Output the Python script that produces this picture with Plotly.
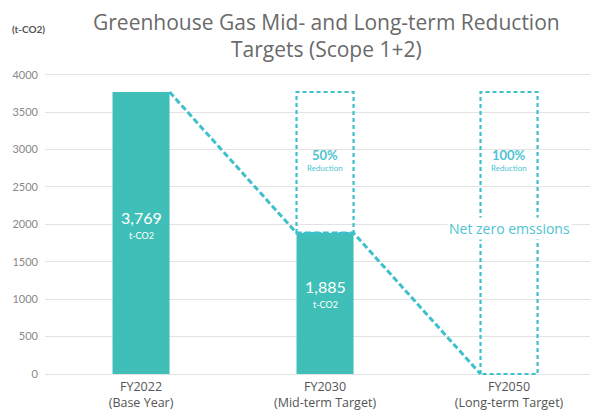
import plotly.graph_objects as go

title_text = "Greenhouse Gas Mid- and Long-term Reduction<br>Targets (Scope 1+2)"
categories = ["FY2022<br>(Base Year)", "FY2030<br>(Mid-term Target)", "FY2050<br>(Long-term Target)"]
emissions = [3769, 1885, 0]
reduction_labels = ["", "50%", "100%"]
value_labels = ["3,769", "1,885", ""]
unit = "t-CO2"
y_ticks = [0, 500, 1000, 1500, 2000, 2500, 3000, 3500, 4000]

BAR = "#3fbfb8"
DASH = "#3dbfcc"
TXT = "#4fc3d3"
half = 0.155
base = emissions[0]

fig = go.Figure()
fig.add_trace(go.Bar(x=[0, 1], y=emissions[:2], width=2 * half, marker=dict(color=BAR, line=dict(width=0)),
                     hoverinfo="skip"))

# dashed target boxes
for i in (1, 2):
    xs = [i - half, i - half, i + half, i + half, i - half]
    ys = [emissions[i], base, base, emissions[i], emissions[i]]
    fig.add_trace(go.Scatter(x=xs, y=ys, mode="lines", line=dict(color=DASH, width=2.2, dash="4px,3px"),
                             hoverinfo="skip"))

# dashed trajectory: right edge of each column to left edge of the next
traj_x = [0 + half, 1 - half, 1 + half, 2 - half]
traj_y = [emissions[0], emissions[1], emissions[1], emissions[2]]
fig.add_trace(go.Scatter(x=traj_x, y=traj_y, mode="lines",
                         line=dict(color=DASH, width=3, dash="6px,3px"), hoverinfo="skip"))

ann = []
for i in (0, 1):
    yy = emissions[i] * 0.52 if i == 0 else emissions[i] * 0.55
    ann.append(dict(x=i, y=yy, text=value_labels[i],
                    showarrow=False, font=dict(size=16, color="white"), yanchor="bottom", yshift=-2))
    ann.append(dict(x=i, y=yy, text=unit,
                    showarrow=False, font=dict(size=9, color="white"), yanchor="top", yshift=-1))
for i in (1, 2):
    ann.append(dict(x=i, y=2850, text="<b>" + reduction_labels[i] + "</b>", showarrow=False,
                    font=dict(size=13, color=TXT), yanchor="bottom", yshift=-4))
    ann.append(dict(x=i, y=2850, text="Reduction", showarrow=False,
                    font=dict(size=8, color=TXT), yanchor="top", yshift=0))
ann.append(dict(x=2, y=1950, text="Net zero emssions", showarrow=False, bgcolor="white",
                font=dict(size=14, color=TXT, family="Open Sans, sans-serif"), xshift=0))
ann.append(dict(xref="paper", yref="paper", x=-0.065, y=1.165, text="<b>(t-CO2)</b>", showarrow=False,
                xanchor="left", font=dict(size=10, color="#555")))
ann.append(dict(xref="paper", yref="paper", x=0.517, y=1.212, text=title_text, showarrow=False,
                xanchor="center", yanchor="top",
                font=dict(size=21, color="#6a6a6a", family="Open Sans, sans-serif")))

fig.update_layout(
    width=590, height=410,
    margin=dict(l=45, r=0, t=71, b=33),
    paper_bgcolor="white", plot_bgcolor="white",
    showlegend=False,
    font=dict(family="Lato, Open Sans, sans-serif"),
    xaxis=dict(range=[-0.522, 2.44], tickmode="array", tickvals=[0, 1, 2], ticktext=categories,
               showgrid=False, zeroline=False, showline=False, ticks="",
               tickfont=dict(size=12.5, color="#555", family="Open Sans, sans-serif")),
    yaxis=dict(range=[-40, 4050], tickmode="array", tickvals=y_ticks,
               showgrid=True, gridcolor="#e3e3e3", gridwidth=1, zeroline=False,
               ticks="", tickfont=dict(size=11, color="#888"), ticklabelstandoff=6),
    annotations=ann,
)
fig.write_html("out.html", config={"displayModeBar": False},
               post_script="document.body.style.margin='0';")
